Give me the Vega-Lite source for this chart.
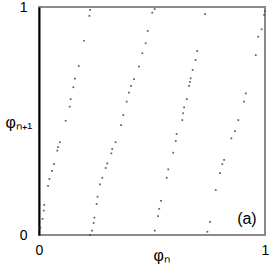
{
  "$schema": "https://vega.github.io/schema/vega-lite/v6.json",
  "width": 226,
  "height": 228,
  "autosize": {"type": "none"},
  "padding": {"left": 39, "top": 7, "right": 9, "bottom": 30},
  "background": "white",
  "config": {
    "view": {"stroke": "#8a8a8a", "strokeWidth": 2},
    "font": "Liberation Sans"
  },
  "layer": [
    {
      "data": {"values": [
        {"x":0.006,"y":0.032},{"x":0.016,"y":0.071},{"x":0.021,"y":0.107},{"x":0.023,"y":0.132},{"x":0.040,"y":0.215},{"x":0.046,"y":0.246},{"x":0.058,"y":0.281},{"x":0.066,"y":0.311},{"x":0.081,"y":0.370},{"x":0.084,"y":0.385},{"x":0.092,"y":0.407},{"x":0.118,"y":0.501},{"x":0.136,"y":0.563},{"x":0.140,"y":0.596},{"x":0.152,"y":0.648},{"x":0.159,"y":0.686},{"x":0.176,"y":0.741},{"x":0.199,"y":0.852},{"x":0.223,"y":0.961},{"x":0.226,"y":0.987},
        {"x":0.226,"y":0.001},{"x":0.235,"y":0.019},{"x":0.242,"y":0.053},{"x":0.245,"y":0.076},{"x":0.255,"y":0.136},{"x":0.259,"y":0.168},{"x":0.270,"y":0.222},{"x":0.280,"y":0.251},{"x":0.295,"y":0.294},{"x":0.302,"y":0.314},{"x":0.320,"y":0.358},{"x":0.324,"y":0.377},{"x":0.339,"y":0.407},{"x":0.363,"y":0.482},{"x":0.373,"y":0.526},{"x":0.388,"y":0.585},{"x":0.398,"y":0.624},{"x":0.407,"y":0.654},{"x":0.420,"y":0.684},{"x":0.442,"y":0.738},{"x":0.457,"y":0.797},{"x":0.472,"y":0.841},{"x":0.481,"y":0.895},{"x":0.501,"y":0.975},{"x":0.512,"y":0.991},
        {"x":0.512,"y":0.019},{"x":0.527,"y":0.083},{"x":0.532,"y":0.115},{"x":0.540,"y":0.150},{"x":0.565,"y":0.251},{"x":0.572,"y":0.288},{"x":0.594,"y":0.361},{"x":0.605,"y":0.412},{"x":0.609,"y":0.443},{"x":0.634,"y":0.504},{"x":0.638,"y":0.534},{"x":0.642,"y":0.560},{"x":0.654,"y":0.596},{"x":0.664,"y":0.654},{"x":0.668,"y":0.672},{"x":0.671,"y":0.687},{"x":0.680,"y":0.724},{"x":0.693,"y":0.768},{"x":0.700,"y":0.807},{"x":0.735,"y":0.969},
        {"x":0.745,"y":0.014},{"x":0.757,"y":0.058},{"x":0.782,"y":0.197},{"x":0.801,"y":0.271},{"x":0.811,"y":0.311},{"x":0.819,"y":0.329},{"x":0.851,"y":0.424},{"x":0.867,"y":0.456},{"x":0.882,"y":0.504},{"x":0.907,"y":0.585},{"x":0.915,"y":0.621},{"x":0.959,"y":0.789},{"x":0.970,"y":0.870},{"x":0.985,"y":0.902},{"x":0.996,"y":0.965},{"x":1.0,"y":0.982}
      ]},
      "mark": {"type": "square", "size": 3, "color": "#444", "opacity": 0.85},
      "encoding": {
        "x": {
          "field": "x", "type": "quantitative",
          "scale": {"domain": [0, 1], "nice": false, "zero": false},
          "axis": {
            "values": [0, 1], "format": "d", "ticks": false, "grid": false, "domain": false,
            "labelFontSize": 14, "labelColor": "black", "labelPadding": 8, "labelFlush": false,
            "labelFont": "Liberation Sans",
            "title": "φₙ", "titleFontSize": 16, "titleFontWeight": "normal", "titleColor": "black",
            "titleFont": "Liberation Sans",
            "titleX": 114, "titleY": 12, "titleAlign": "left", "titleBaseline": "top"
          }
        },
        "y": {
          "field": "y", "type": "quantitative",
          "scale": {"domain": [0, 1], "nice": false, "zero": false},
          "axis": {
            "values": [0, 1], "format": "d", "ticks": false, "grid": false,
            "domain": true, "domainColor": "black", "domainWidth": 2,
            "labelFontSize": 14, "labelColor": "black", "labelPadding": 12, "labelFlush": false,
            "labelFont": "Liberation Sans",
            "title": "φₙ₊₁", "titleFontSize": 16, "titleFontWeight": "normal", "titleColor": "black",
            "titleFont": "Liberation Sans",
            "titleAngle": 0, "titleX": -34, "titleY": 115, "titleAlign": "left", "titleBaseline": "middle"
          }
        }
      }
    },
    {
      "data": {"values": [{"label": "(a)"}]},
      "mark": {"type": "text", "fontSize": 16, "font": "Liberation Sans", "color": "black", "align": "center", "baseline": "middle"},
      "encoding": {
        "text": {"field": "label"},
        "x": {"datum": 0.92, "type": "quantitative"},
        "y": {"datum": 0.07, "type": "quantitative"}
      }
    }
  ]
}
